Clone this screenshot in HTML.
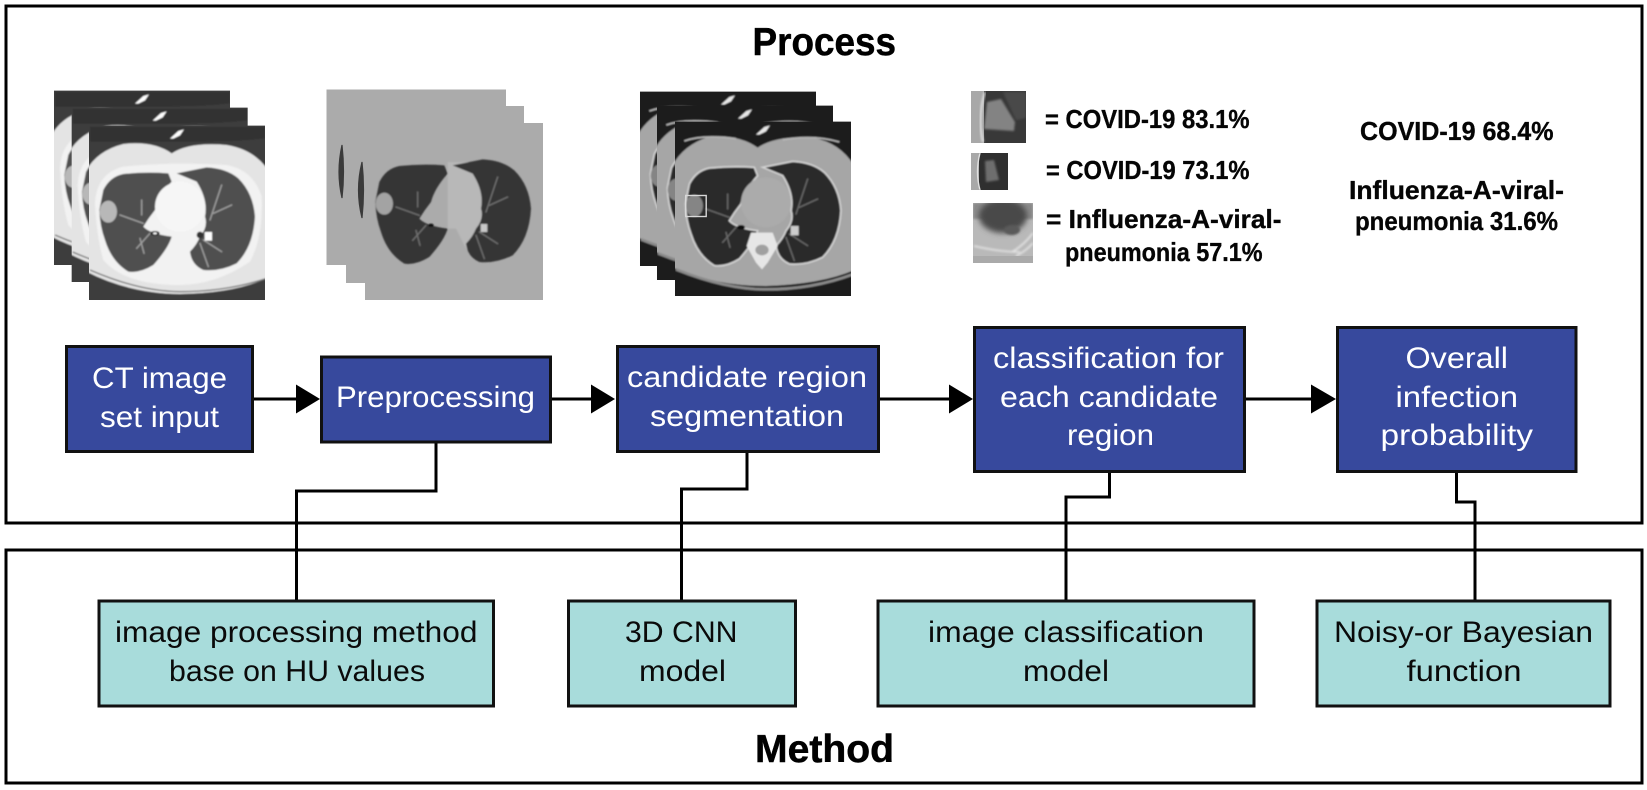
<!DOCTYPE html>
<html><head><meta charset="utf-8"><style>
html,body{margin:0;padding:0;background:#fff}
svg{display:block}
text{font-family:"Liberation Sans",sans-serif}
.w{fill:#fff;font-size:30px}
.k{fill:#0a0a0a;font-size:30px}
.b{fill:#050505;font-size:26px;font-weight:bold;stroke:#050505;stroke-width:.35px}
.t{fill:#000;font-size:39px;font-weight:bold;stroke:#000;stroke-width:.5px}
</style></head><body>
<svg width="1647" height="790" viewBox="0 0 1647 790" xmlns="http://www.w3.org/2000/svg">
<defs>
<filter id="bl" x="-5%" y="-5%" width="110%" height="110%"><feGaussianBlur stdDeviation="2.2"/></filter>
<filter id="b2" x="-20%" y="-20%" width="140%" height="140%"><feGaussianBlur stdDeviation="1"/></filter>
<filter id="b3" x="-30%" y="-30%" width="160%" height="160%"><feGaussianBlur stdDeviation="3"/></filter>
<clipPath id="sl"><rect x="147" y="167" width="528" height="523"/></clipPath>
<clipPath id="th1"><rect x="971" y="91" width="55" height="52"/></clipPath>
<clipPath id="th2"><rect x="971" y="153" width="37" height="37"/></clipPath>
<clipPath id="th3"><rect x="973" y="203" width="60" height="60"/></clipPath>
<path id="lL" d="M190 360Q210 320 250 312Q320 305 385 310L395 335Q355 380 345 420Q325 445 310 470Q330 492 395 500Q385 535 340 585Q300 610 265 605Q215 575 195 510Q180 470 178 420Z"/>
<path id="lR" d="M410 310Q460 300 500 292Q560 295 595 325Q640 370 645 440Q640 530 590 580Q540 605 490 600Q455 585 450 545Q470 525 480 500Q505 470 495 440Q505 390 470 335Z"/>
<g id="ves" fill="none" stroke-linecap="round">
<path d="M310 460L240 435M330 490L290 535M300 505L312 550M305 435L305 390M510 450L545 345M520 430L575 405M490 510L545 545M480 520L505 590" stroke-width="4"/>
</g>
<g id="ct1"><g clip-path="url(#sl)"><g filter="url(#bl)">
<rect x="140" y="160" width="545" height="540" fill="#3d3d3d"/>
<path d="M150 170H675V205Q600 215 470 215H150Z" fill="#333"/>
<path d="M130 320Q160 245 250 222Q340 212 395 250Q450 215 560 225Q650 240 690 310L690 620Q590 670 420 672Q260 670 130 600Z" fill="#e4e4e4"/>
<path d="M150 600Q300 665 420 665Q560 665 680 625" fill="none" stroke="#777" stroke-width="4"/>
<path d="M165 400Q170 310 250 290Q400 275 560 285Q640 300 665 380Q670 500 630 575Q520 650 400 645Q250 640 190 570Q170 500 165 400Z" fill="#f2f2f2"/>
<use href="#lL" fill="#505050"/><use href="#lR" fill="#505050"/>
<ellipse cx="420" cy="410" rx="75" ry="75" fill="#f6f6f6"/>
<use href="#ves" stroke="#a0a0a0"/>
<ellipse cx="205" cy="425" rx="26" ry="33" fill="#b8b8b8"/>
<rect x="494" y="486" width="22" height="26" fill="#fff"/>
<ellipse cx="345" cy="490" rx="14" ry="7" fill="#222"/>
<ellipse cx="345" cy="490" rx="6" ry="3" fill="#fff"/>
<ellipse cx="480" cy="495" rx="10" ry="10" fill="#333"/>
<path d="M390 206L415 183L432 178L420 196L400 206Z" fill="#fff"/>
</g></g></g>
<g id="ct3"><g clip-path="url(#sl)"><g filter="url(#bl)">
<rect x="140" y="160" width="545" height="540" fill="#1d1d1d"/>
<path d="M130 320Q160 240 250 212Q340 205 395 245Q450 208 560 215Q650 232 690 310L690 610Q590 655 420 660Q260 660 130 600Z" fill="#a6a6a6"/>
<path d="M150 610Q300 670 420 670Q560 670 680 625" fill="none" stroke="#8a8a8a" stroke-width="8"/>
<g transform="translate(0 -6)">
<use href="#lL" fill="#2a2a2a" stroke="#d2d2d2" stroke-width="5"/><use href="#lR" fill="#2a2a2a" stroke="#d2d2d2" stroke-width="5"/>
<ellipse cx="420" cy="415" rx="75" ry="75" fill="#ababab"/>
<use href="#ves" stroke="#6a6a6a"/>
<ellipse cx="205" cy="425" rx="26" ry="33" fill="#858585"/>
<rect x="494" y="486" width="24" height="28" fill="#ccc"/>
<ellipse cx="345" cy="490" rx="12" ry="7" fill="#111"/>
</g>
<path d="M375 500L440 500L455 540L425 590L408 610L390 590L362 540Z" fill="#e6e6e6"/>
<ellipse cx="408" cy="552" rx="20" ry="16" fill="#a0a0a0"/>
<path d="M390 206L415 183L432 178L420 196L400 206Z" fill="#e8e8e8"/>
<path d="M175 225Q230 205 330 218M470 222Q560 205 640 228" fill="none" stroke="#b5b5b5" stroke-width="5"/>
</g></g></g>
</defs>

<rect width="1647" height="790" fill="#fff"/>

<!-- panels -->
<rect x="6" y="6" width="1636" height="517" fill="none" stroke="#000" stroke-width="3"/>
<rect x="6" y="550" width="1636" height="233" fill="none" stroke="#000" stroke-width="3"/>

<text class="t" x="752.5" y="55" textLength="143.5" lengthAdjust="spacingAndGlyphs">Process</text>
<text class="t" x="755" y="762" textLength="139" lengthAdjust="spacingAndGlyphs">Method</text>

<!-- stack 1 -->
<g transform="translate(40 70) scale(.33333)">
<use href="#ct1" transform="translate(-105 -105)"/>
<use href="#ct1" transform="translate(-52 -54)"/>
<use href="#ct1"/>
</g>

<!-- stack 2 -->
<rect x="326.5" y="89.5" width="179.5" height="175.5" fill="#ababab"/>
<rect x="346" y="106" width="178" height="177" fill="#ababab"/>
<rect x="365" y="123" width="178" height="177" fill="#ababab"/>
<g filter="url(#bl)" transform="translate(316 62) scale(.33333)">
<path d="M395 300L470 300Q520 400 500 440L480 560L450 560L420 500L395 500Z" fill="#b8b8b8"/>
<use href="#lL" fill="#363636"/><use href="#lR" fill="#363636"/>
<use href="#ves" stroke="#707070"/>
<ellipse cx="205" cy="425" rx="26" ry="33" fill="#a3a3a3"/>
<rect x="494" y="486" width="20" height="24" fill="#c8c8c8"/>
<ellipse cx="345" cy="490" rx="8" ry="5" fill="#111"/>
</g>
<path d="M342 145Q336 172 342 198Q345 172 342 145Z" fill="#3a3a3a" stroke="#3a3a3a" stroke-width="1.2"/>
<path d="M362 162Q355 190 362 218Q365 190 362 162Z" fill="#3a3a3a" stroke="#3a3a3a" stroke-width="1.2"/>

<!-- stack 3 -->
<g transform="translate(626 66) scale(.33333)">
<use href="#ct3" transform="translate(-105 -90)"/>
<use href="#ct3" transform="translate(-54 -48)"/>
<use href="#ct3"/>
</g>
<rect x="685.7" y="195.5" width="20.5" height="21" fill="none" stroke="#d8d8d8" stroke-width="1.4"/>

<!-- thumbnails -->
<g clip-path="url(#th1)">
<rect x="971" y="91" width="55" height="52" fill="#383838"/>
<rect x="971" y="91" width="13" height="52" fill="#a8a8a8"/>
<path d="M985 92Q977 118 983 142" fill="none" stroke="#e6e6e6" stroke-width="2" filter="url(#b2)"/>
<path d="M987 102L1001 99L1015 122L1014 131L984 129Z" fill="#838383" filter="url(#b2)"/>
<path d="M1003 92H1026V118L1016 120Z" fill="#4a4a4a" filter="url(#b2)"/>
</g>
<g clip-path="url(#th2)">
<rect x="971" y="153" width="37" height="37" fill="#2f2f2f"/>
<rect x="971" y="153" width="8" height="37" fill="#a8a8a8"/>
<path d="M980 153Q975 172 980 190" fill="none" stroke="#e0e0e0" stroke-width="1.4"/>
<path d="M985 161L994 160L999 180L986 182Z" fill="#6e6e6e" filter="url(#b2)"/>
</g>
<g clip-path="url(#th3)">
<rect x="973" y="203" width="60" height="60" fill="#b9b9b9"/>
<rect x="973" y="203" width="60" height="16" fill="#8a8a8a" filter="url(#b2)"/>
<ellipse cx="1003" cy="216" rx="24" ry="17" fill="#4a4a4a" filter="url(#b3)"/>
<ellipse cx="1012" cy="230" rx="8" ry="5" fill="#5a5a5a" filter="url(#b2)"/>
<path d="M1012 252Q1024 245 1033 233M1016 256Q1026 251 1033 243M974 246Q1000 252 1020 252" fill="none" stroke="#e8e8e8" stroke-width="1.6" filter="url(#b2)"/>
<rect x="973" y="256" width="60" height="7" fill="#aaa"/>
</g>

<!-- connectors -->
<g fill="none" stroke="#000" stroke-width="3">
<path d="M253 399H298"/><path d="M551 399H593"/><path d="M879 399H951"/><path d="M1245 399H1313"/>
<path d="M436 442V491H296.5V600"/>
<path d="M747 452V489H681.5V600"/>
<path d="M1109.5 472V497H1066V600"/>
<path d="M1456.5 472V502H1475V600"/>
</g>
<g fill="#000">
<path d="M296 384.5L320 399L296 413.5Z"/>
<path d="M591 384.5L615 399L591 413.5Z"/>
<path d="M949 384.5L973 399L949 413.5Z"/>
<path d="M1311 384.5L1336 399L1311 413.5Z"/>
</g>

<!-- blue boxes -->
<g fill="#37499d" stroke="#111" stroke-width="3">
<rect x="66.5" y="346.5" width="186" height="105"/>
<rect x="321.5" y="357" width="229" height="85"/>
<rect x="617.5" y="346.5" width="261" height="105"/>
<rect x="974.5" y="327.5" width="270" height="144"/>
<rect x="1337.5" y="327.5" width="238.5" height="144"/>
</g>
<!-- teal boxes -->
<g fill="#a8dcdb" stroke="#111" stroke-width="3">
<rect x="99" y="601" width="394.5" height="105"/>
<rect x="568.5" y="601" width="227" height="105"/>
<rect x="878" y="601" width="376" height="105"/>
<rect x="1317" y="601" width="293" height="105"/>
</g>

<!-- box labels -->
<text class="w" x="92" y="388" textLength="135" lengthAdjust="spacingAndGlyphs">CT image</text>
<text class="w" x="100" y="427" textLength="119" lengthAdjust="spacingAndGlyphs">set input</text>
<text class="w" x="336" y="407" textLength="199" lengthAdjust="spacingAndGlyphs">Preprocessing</text>
<text class="w" x="627" y="387" textLength="240" lengthAdjust="spacingAndGlyphs">candidate region</text>
<text class="w" x="650" y="426" textLength="194" lengthAdjust="spacingAndGlyphs">segmentation</text>
<text class="w" x="993" y="368" textLength="231" lengthAdjust="spacingAndGlyphs">classification for</text>
<text class="w" x="1000" y="407" textLength="218" lengthAdjust="spacingAndGlyphs">each candidate</text>
<text class="w" x="1067" y="445" textLength="87" lengthAdjust="spacingAndGlyphs">region</text>
<text class="w" x="1405.5" y="368" textLength="102.5" lengthAdjust="spacingAndGlyphs">Overall</text>
<text class="w" x="1395.5" y="407" textLength="122.5" lengthAdjust="spacingAndGlyphs">infection</text>
<text class="w" x="1380.5" y="445" textLength="152.5" lengthAdjust="spacingAndGlyphs">probability</text>

<text class="k" x="115" y="642" textLength="362.5" lengthAdjust="spacingAndGlyphs">image processing method</text>
<text class="k" x="169" y="681" textLength="256" lengthAdjust="spacingAndGlyphs">base on HU values</text>
<text class="k" x="625" y="642" textLength="112.5" lengthAdjust="spacingAndGlyphs">3D CNN</text>
<text class="k" x="639" y="681" textLength="87" lengthAdjust="spacingAndGlyphs">model</text>
<text class="k" x="928" y="642" textLength="276" lengthAdjust="spacingAndGlyphs">image classification</text>
<text class="k" x="1023" y="681" textLength="86" lengthAdjust="spacingAndGlyphs">model</text>
<text class="k" x="1334" y="642" textLength="259" lengthAdjust="spacingAndGlyphs">Noisy-or Bayesian</text>
<text class="k" x="1406.5" y="681" textLength="115" lengthAdjust="spacingAndGlyphs">function</text>

<!-- probability labels -->
<text class="b" x="1045" y="128" textLength="204.5" lengthAdjust="spacingAndGlyphs">= COVID-19 83.1%</text>
<text class="b" x="1046" y="179" textLength="203.5" lengthAdjust="spacingAndGlyphs">= COVID-19 73.1%</text>
<text class="b" x="1046" y="228" textLength="235.5" lengthAdjust="spacingAndGlyphs">= Influenza-A-viral-</text>
<text class="b" x="1065" y="261" textLength="197.5" lengthAdjust="spacingAndGlyphs">pneumonia 57.1%</text>
<text class="b" x="1360" y="140" textLength="193.5" lengthAdjust="spacingAndGlyphs">COVID-19 68.4%</text>
<text class="b" x="1349" y="199" textLength="215" lengthAdjust="spacingAndGlyphs">Influenza-A-viral-</text>
<text class="b" x="1355" y="230" textLength="203" lengthAdjust="spacingAndGlyphs">pneumonia 31.6%</text>
</svg>
</body></html>
